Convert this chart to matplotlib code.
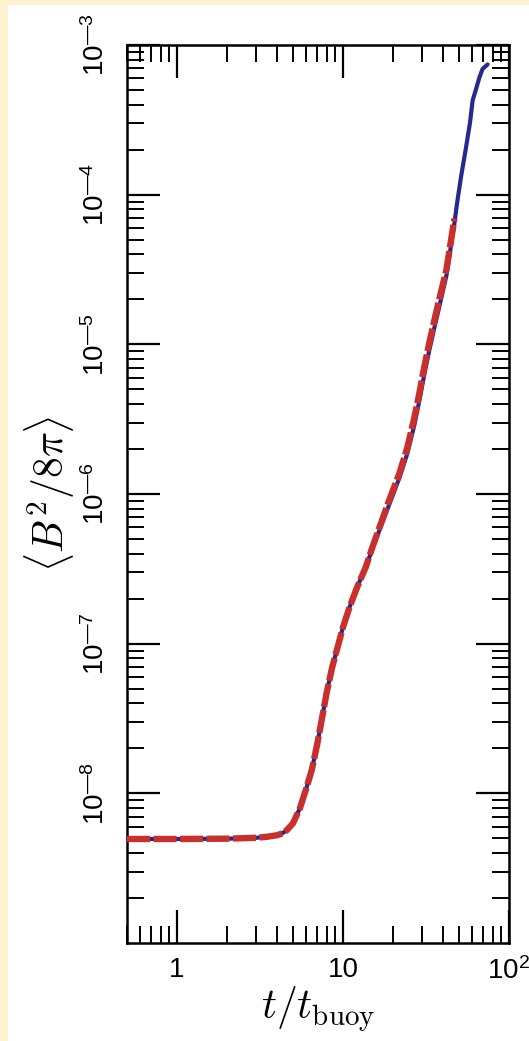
import numpy as np
import matplotlib
matplotlib.use("Agg")
import matplotlib.pyplot as plt
from matplotlib.patches import Rectangle
from matplotlib.ticker import LogLocator, FixedLocator, FixedFormatter, NullFormatter

# ---- data ----
t_blue = [0.5, 1.0, 2.0, 3.0, 3.5, 4.0, 4.3, 4.6, 5.0, 5.5, 6.0, 6.5, 7.0, 7.5, 8.0, 8.6,
          9.3, 10.0, 11.0, 12.3, 13.7, 15.1, 17.0, 19.0, 21.9, 24.4, 26.9, 28.8, 30.9,
          33.1, 35.5, 38.0, 42.0, 46.9, 48.9, 51.6, 54.8, 58.2, 60.4, 63.5, 66.2, 69.3, 74.3]
logE_blue = [-8.305, -8.305, -8.303, -8.297, -8.29, -8.28, -8.268, -8.245, -8.20, -8.10,
             -7.97, -7.84, -7.67, -7.49, -7.32, -7.16, -7.02, -6.89, -6.75, -6.61, -6.49,
             -6.36, -6.21, -6.07, -5.89, -5.73, -5.54, -5.38, -5.20, -5.04, -4.89, -4.75,
             -4.54, -4.19, -4.04, -3.87, -3.70, -3.52, -3.37, -3.29, -3.22, -3.16, -3.13]
t_red = [0.5, 1.0, 2.0, 3.0, 3.5, 4.0, 4.3, 4.6, 5.0, 5.5, 6.0, 6.5, 7.0, 7.5, 8.0, 8.6,
         9.3, 10.0, 11.0, 12.3, 13.7, 15.1, 17.0, 19.0, 21.9, 24.4, 26.9, 28.8, 30.9,
         33.1, 35.5, 38.0, 42.0, 46.9]
logE_red = [-8.305, -8.305, -8.303, -8.297, -8.29, -8.28, -8.268, -8.245, -8.20, -8.10,
            -7.97, -7.84, -7.67, -7.49, -7.32, -7.16, -7.02, -6.89, -6.75, -6.61, -6.49,
            -6.35, -6.19, -6.04, -5.86, -5.69, -5.49, -5.33, -5.15, -4.99, -4.84, -4.70,
            -4.50, -4.16]

x_ticks = [1, 10, 100]
x_ticklabels = ["1", "10", "10$^{\\mathsf{2}}$"]
y_ticks = [1e-8, 1e-7, 1e-6, 1e-5, 1e-4, 1e-3]
y_ticklabels = ["10$^{\\mathsf{\u2014 8}}$", "10$^{\\mathsf{\u2014 7}}$", "10$^{\\mathsf{\u2014 6}}$",
                "10$^{\\mathsf{\u2014 5}}$", "10$^{\\mathsf{\u2014 4}}$", "10$^{\\mathsf{\u2014 3}}$"]

plt.rcParams["font.family"] = ["Liberation Sans", "DejaVu Sans"]
plt.rcParams["mathtext.fontset"] = "custom"
plt.rcParams["mathtext.rm"] = "Liberation Sans"
plt.rcParams["mathtext.sf"] = "Liberation Sans"
plt.rcParams["mathtext.it"] = "Liberation Sans:italic"
plt.rcParams["mathtext.bf"] = "Liberation Sans:bold"

fig = plt.figure(figsize=(5.29, 10.41), dpi=100)
fig.patch.set_facecolor("#FEF2CF")
fig.patches.append(Rectangle((8 / 529, 0), 1, 1 - 5 / 1041, transform=fig.transFigure,
                             facecolor="white", edgecolor="none", zorder=-10))

ax = fig.add_axes([127 / 529, 1 - 943 / 1041, (509 - 127) / 529, (943 - 45) / 1041])

ax.plot(t_blue, 10 ** np.array(logE_blue), color="#25298C", lw=3.0,
        solid_capstyle="round", solid_joinstyle="round", zorder=2)
ax.plot(t_red, 10 ** np.array(logE_red), color="#C9302B", lw=4.6,
        linestyle=(0, (3.6, 0.55)), dash_capstyle="butt", dash_joinstyle="round", zorder=3)

ax.set_xscale("log")
ax.set_yscale("log")
ax.set_xlim(0.5, 100)
ax.set_ylim(1e-9, 1e-3)

ax.xaxis.set_major_locator(FixedLocator(x_ticks))
ax.xaxis.set_major_formatter(FixedFormatter(x_ticklabels))
ax.xaxis.set_minor_locator(LogLocator(base=10, subs=np.arange(2, 10), numticks=20))
ax.xaxis.set_minor_formatter(NullFormatter())

ax.yaxis.set_major_locator(FixedLocator(y_ticks))
ax.yaxis.set_major_formatter(FixedFormatter(y_ticklabels))
ax.yaxis.set_minor_locator(LogLocator(base=10, subs=np.arange(2, 10), numticks=20))
ax.yaxis.set_minor_formatter(NullFormatter())

ax.tick_params(which="both", direction="in", top=True, right=True, colors="black")
ax.tick_params(which="major", length=24, width=1.6, labelsize=20)
ax.tick_params(which="minor", length=12, width=1.4)
ax.tick_params(axis="x", which="major", pad=10)
ax.tick_params(axis="y", which="major", pad=12)
for lab in ax.get_yticklabels():
    lab.set_rotation(90)
    lab.set_va("center")

for s in ax.spines.values():
    s.set_linewidth(1.8)

ax.set_xlabel("$t/t_{\\rm buoy}$", fontsize=30, math_fontfamily="cm", labelpad=0)
ax.set_ylabel("$\\langle B^2/8\\pi\\rangle$", fontsize=30, math_fontfamily="cm", labelpad=4)

fig.savefig("out.png", dpi=100, facecolor=fig.get_facecolor())
